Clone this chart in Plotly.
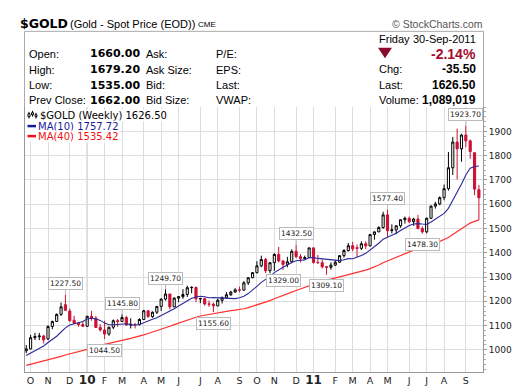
import pandas as pd
import plotly.graph_objects as go

# ---------------- data (weekly, Fridays) ----------------
start_date = "2009-10-02"
n_weeks = 105
opens = [996, 1004, 1050, 1054, 1057, 1045, 1096, 1117, 1146, 1186,
         1160, 1122, 1110, 1104, 1097, 1138, 1130, 1092, 1082, 1065,
         1093, 1120, 1117, 1133, 1102, 1105, 1104, 1125, 1161, 1137,
         1155, 1179, 1209, 1230, 1177, 1213, 1219, 1228, 1256, 1257,
         1210, 1211, 1189, 1188, 1181, 1204, 1215, 1227, 1238, 1247,
         1246, 1276, 1297, 1318, 1346, 1372, 1326, 1359, 1393, 1366,
         1352, 1363, 1406, 1384, 1376, 1380, 1420, 1360, 1359, 1342,
         1340, 1349, 1361, 1388, 1409, 1429, 1421, 1418, 1437, 1428,
         1475, 1486, 1504, 1556, 1491, 1494, 1511, 1536, 1542, 1528,
         1539, 1500, 1486, 1542, 1592, 1601, 1627, 1664, 1750, 1856,
         1828, 1885, 1861, 1812, 1660]
highs = [1020, 1062, 1070, 1070, 1062, 1101, 1120, 1150, 1195, 1227.5,
         1170, 1140, 1115, 1118, 1140, 1161, 1140, 1106, 1120, 1095,
         1125, 1127, 1145.8, 1140, 1130, 1110, 1130, 1165, 1162, 1158,
         1180, 1212, 1249.7, 1231, 1217, 1221, 1250, 1264, 1262, 1261,
         1214, 1215, 1203, 1195, 1210, 1220, 1238, 1243, 1254, 1260,
         1283, 1300, 1320, 1365, 1388, 1379, 1360, 1398, 1424, 1370,
         1383, 1414, 1432.5, 1395, 1388, 1421, 1422, 1391, 1372, 1346,
         1360, 1368, 1390, 1415, 1440, 1445, 1434, 1447, 1447, 1476,
         1487, 1509, 1569, 1577.4, 1517, 1513, 1537, 1549, 1549, 1544,
         1556, 1509, 1545, 1595, 1610, 1632, 1681, 1815, 1877, 1911,
         1890, 1923.7, 1866, 1813, 1679.2]
lows = [986, 1002, 1040, 1040, 1026, 1040, 1085, 1115, 1140, 1160,
        1116, 1107, 1095, 1096, 1094, 1120, 1090, 1075, 1044.5, 1058,
        1085, 1095, 1115, 1100, 1088, 1088, 1100, 1125, 1132, 1132,
        1148, 1160, 1203, 1166, 1176, 1196, 1210, 1218, 1233, 1196,
        1192, 1182, 1177, 1155.6, 1180, 1191, 1214, 1222, 1235, 1237,
        1244, 1267, 1295, 1315, 1340, 1316, 1315, 1325, 1360, 1329,
        1340, 1357, 1378, 1360, 1375, 1378, 1355, 1355, 1335, 1309.1,
        1330, 1345, 1358, 1380, 1405, 1406, 1382, 1411, 1415, 1427,
        1454, 1485, 1499, 1466, 1480, 1476, 1503, 1520, 1522, 1511,
        1496, 1478.3, 1480, 1539, 1582, 1596, 1616, 1656, 1720, 1702,
        1775, 1835, 1787, 1637, 1535]
closes = [1004, 1050, 1055, 1057, 1041, 1096, 1117, 1146, 1177, 1163,
          1120, 1110, 1104, 1097, 1138, 1130, 1092, 1082, 1065, 1093,
          1120, 1117, 1133, 1102, 1105, 1104, 1125, 1161, 1137, 1155,
          1179, 1209, 1230, 1177, 1213, 1219, 1228, 1256, 1257, 1210,
          1211, 1189, 1188, 1181, 1204, 1215, 1227, 1238, 1247, 1246,
          1276, 1297, 1318, 1346, 1372, 1326, 1359, 1393, 1366, 1352,
          1363, 1406, 1384, 1376, 1380, 1420, 1360, 1359, 1342, 1340,
          1349, 1361, 1388, 1409, 1429, 1416, 1418, 1437, 1428, 1475,
          1486, 1504, 1556, 1491, 1494, 1511, 1536, 1542, 1528, 1539,
          1500, 1486, 1542, 1592, 1601, 1627, 1664, 1750, 1856, 1828,
          1885, 1861, 1817, 1662, 1626.5]
# weekly closes Jan-Sep 2009 (needed for the moving averages' start)
prior_closes = [878, 853, 840, 897, 927, 914, 941, 995, 942, 940, 930, 952, 923,
                899, 882, 869, 912, 885, 915, 930, 958, 979, 962, 939, 935, 940,
                930, 912, 937, 951, 954, 957, 948, 952, 955, 996, 1006, 1004, 991]

tick_dates = ["2009-10-09", "2009-11-06", "2009-12-11", "2010-01-08", "2010-02-05",
              "2010-03-05", "2010-04-09", "2010-05-07", "2010-06-04", "2010-07-09",
              "2010-08-06", "2010-09-10", "2010-10-08", "2010-11-05", "2010-12-10",
              "2011-01-07", "2011-02-11", "2011-03-11", "2011-04-08", "2011-05-06",
              "2011-06-10", "2011-07-08", "2011-08-05", "2011-09-09"]
tick_labels = ["O", "N", "D", "10", "F", "M", "A", "M", "J", "J", "A", "S",
               "O", "N", "D", "11", "F", "M", "A", "M", "J", "J", "A", "S"]
year_dates = ["2010-01-08", "2011-01-07"]

callout_dates = ["2009-12-04", "2010-02-05", "2010-03-05", "2010-05-14", "2010-07-30",
                 "2010-11-19", "2010-12-10", "2011-01-28", "2011-05-06", "2011-07-01",
                 "2011-09-09"]
callout_values = [1227.50, 1044.50, 1145.80, 1249.70, 1155.60,
                  1329.00, 1432.50, 1309.10, 1577.40, 1478.30, 1923.70]
callout_kind = ["high", "low", "high", "high", "low",
                "low", "high", "low", "high", "low", "high"]

y_ticks = [1000, 1100, 1200, 1300, 1400, 1500, 1600, 1700, 1800, 1900]

hdr_col1 = ["Open:", "High:", "Low:", "Prev Close:"]
hdr_val1 = ["1660.00", "1679.20", "1535.00", "1662.00"]
hdr_col2 = ["Ask:", "Ask Size:", "Bid:", "Bid Size:"]
hdr_col3 = ["P/E:", "EPS:", "Last:", "VWAP:"]
hdr_right_lbl = ["Chg:", "Last:", "Volume:"]
hdr_right_val = ["-35.50", "1626.50", "1,089,019"]

# ---------------- derived ----------------
dates = pd.date_range(start_date, periods=n_weeks, freq="7D")
allc = pd.Series(prior_closes + closes, dtype=float)
ma10 = allc.rolling(10).mean().iloc[len(prior_closes):].tolist()
ma40 = allc.rolling(40).mean().iloc[len(prior_closes):].tolist()

# ---------------- geometry helpers (pixel -> paper) ----------------
W, H = 520, 391
L, R, T, B = 17, 475, 99, 374
def px(x):
    return (x - L) / (R - L)
def py(y):
    return (B - y) / (B - T)

RED = "#cc1133"
fig = go.Figure()
fig.add_trace(go.Scatter(x=dates, y=ma40, mode="lines",
                         line=dict(color="#ff3030", width=1.2), hoverinfo="skip"))
fig.add_trace(go.Scatter(x=dates, y=ma10, mode="lines",
                         line=dict(color="#2a2a9a", width=1.1), hoverinfo="skip"))
fig.add_trace(go.Candlestick(
    x=dates, open=opens, high=highs, low=lows, close=closes,
    increasing=dict(line=dict(color="black", width=1), fillcolor="white"),
    decreasing=dict(line=dict(color=RED, width=1), fillcolor=RED),
    whiskerwidth=0, hoverinfo="skip"))

ann = []
SANS = "Liberation Sans, Arial, sans-serif"
VER = "DejaVu Sans, Verdana, sans-serif"

def text(x, y, s, anchor="left", size=11, color="#000", family=SANS, **kw):
    ann.append(dict(x=px(x), y=py(y), xref="paper", yref="paper", text=s,
                    showarrow=False, xanchor=anchor, yanchor="middle",
                    font=dict(size=size, color=color, family=family),
                    borderpad=0, **kw))

# title line
text(11, 12, "<b>$GOLD</b>", size=12.5, family=VER)
text(61, 13, "(Gold - Spot Price (EOD))", size=11)
text(189, 13.5, "CME", size=8)
text(476, 12.5, "© StockCharts.com", anchor="right", size=10.5, color="#555")

rows = [43.5, 60.5, 76.5, 92]
for i, yy in enumerate(rows):
    text(20, yy, hdr_col1[i], size=11)
    text(133, yy, "<b>%s</b>" % hdr_val1[i], anchor="right", size=11, family=VER)
    text(136.5, yy, hdr_col2[i], size=11)
    text(206.5, yy, hdr_col3[i], size=11)
text(370, 28.5, "Friday", size=11)
text(469, 28.5, "30-Sep-2011", anchor="right", size=11)
text(469, 43.5, "<b>-2.14%</b>", anchor="right", size=14, color="#a50a32")
for yy, lb, vv in zip([60, 76, 91.7], hdr_right_lbl, hdr_right_val):
    text(370, yy, lb, size=11)
    text(469, yy, "<b>%s</b>" % vv, anchor="right", size=12)

# legend
text(31, 107.5, "$GOLD (Weekly) 1626.50", size=10, family=VER, bgcolor="white")
text(29, 118.8, "MA(10) 1757.72", size=10, family=VER, color="#1a1a99", bgcolor="white")
text(29, 129.2, "MA(40) 1535.42", size=10, family=VER, color="#ee1111", bgcolor="white")

# callouts
for d, v, k in zip(callout_dates, callout_values, callout_kind):
    ann.append(dict(x=d, y=v, xref="x", yref="y", text="%.2f" % v,
                    showarrow=True, arrowhead=0, arrowwidth=1, arrowcolor="#b8b8b8",
                    ax=0, ay=-11 if k == "high" else 11, standoff=0,
                    bgcolor="white", bordercolor="#bbbbbb", borderwidth=1, borderpad=1,
                    font=dict(size=7.5, color="#222", family=VER)))

shapes = []
# year separators
for d in year_dates:
    shapes.append(dict(type="line", xref="x", yref="paper", x0=d, x1=d, y0=0, y1=1,
                       line=dict(color="#aaaaaa", width=1), layer="below"))
# header frame
shapes.append(dict(type="path", xref="paper", yref="paper",
                   path="M %f %f L %f %f L %f %f L %f %f" % (px(16.5), py(99), px(16.5), py(20.5),
                                                         px(475.5), py(20.5), px(475.5), py(99)),
                   line=dict(color="#aaaaaa", width=1)))
# down triangle
shapes.append(dict(type="path", xref="paper", yref="paper",
                   path="M %f %f L %f %f L %f %f Z" % (px(370), py(37.5), px(384), py(37.5), px(377), py(48.5)),
                   fillcolor="#8b0a2a", line=dict(width=0)))
# legend backdrop + icons
shapes.append(dict(type="rect", xref="paper", yref="paper", x0=px(17.5), x1=px(31), y0=py(135), y1=py(100),
                   fillcolor="white", line=dict(width=0)))
shapes.append(dict(type="line", xref="paper", yref="paper", x0=px(19.5), x1=px(28), y0=py(118.8), y1=py(118.8),
                   line=dict(color="#1a1a99", width=2.5)))
shapes.append(dict(type="line", xref="paper", yref="paper", x0=px(19.5), x1=px(28), y0=py(129.2), y1=py(129.2),
                   line=dict(color="#ee1111", width=2.5)))
for x0, y0, y1 in [(21, 104, 111), (24.5, 103, 109), (28, 105, 111)]:
    shapes.append(dict(type="line", xref="paper", yref="paper", x0=px(x0), x1=px(x0), y0=py(y1), y1=py(y0),
                       line=dict(color="black", width=1)))
    shapes.append(dict(type="rect", xref="paper", yref="paper", x0=px(x0 - 1), x1=px(x0 + 1),
                       y0=py(y1 - 2), y1=py(y0 + 2), fillcolor="white", line=dict(color="black", width=1)))

ticktext = [("<b><span style='font-size:12px'>%s</span></b>" % t) if t.isdigit() else t
            for t in tick_labels]

fig.update_layout(
    width=W, height=H, margin=dict(l=L, r=W - R, t=T, b=H - B),
    paper_bgcolor="white", plot_bgcolor="white", showlegend=False,
    annotations=ann, shapes=shapes,
    xaxis=dict(type="date",
               range=[dates[0] - pd.Timedelta(days=2), dates[-1] + pd.Timedelta(days=6.6)],
               tickvals=tick_dates, ticktext=ticktext, showgrid=True, gridcolor="#dddddd",
               gridwidth=1, ticks="", showline=True, linecolor="#999999", zeroline=False,
               tickfont=dict(size=9.5, family=VER, color="#222"),
               rangeslider=dict(visible=False), fixedrange=True),
    yaxis=dict(side="right", range=[908.7, 2000.4], tickvals=y_ticks,
               showgrid=True, gridcolor="#dddddd", gridwidth=1,
               ticks="outside", ticklen=3, tickcolor="#999999",
               showline=True, linecolor="#999999", mirror=True, zeroline=False,
               minor=dict(dtick=20, ticks="outside", ticklen=2, tickcolor="#aaaaaa", showgrid=False),
               tickfont=dict(size=9, family=VER, color="#222"), fixedrange=True),
)

fig.write_html("out.html")
